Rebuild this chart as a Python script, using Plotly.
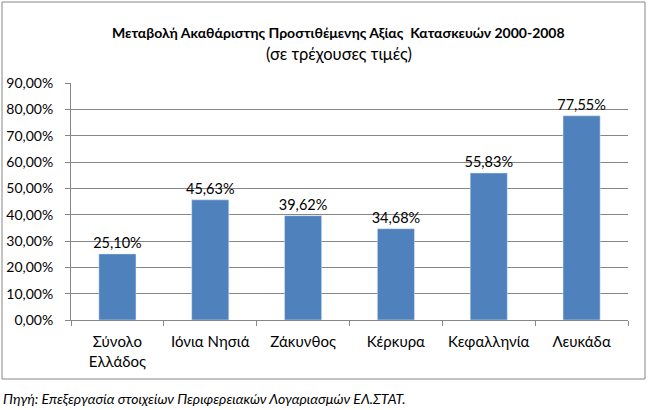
import plotly.graph_objects as go

categories = ["Σύνολο<br>Ελλάδος", "Ιόνια Νησιά", "Ζάκυνθος", "Κέρκυρα", "Κεφαλληνία", "Λευκάδα"]
values = [0.2510, 0.4563, 0.3962, 0.3468, 0.5583, 0.7755]
yticks = [0, 0.1, 0.2, 0.3, 0.4, 0.5, 0.6, 0.7, 0.8, 0.9]

W, H = 648, 410
L, R, T, B = 71, 628, 83, 320
pw, ph = R - L, B - T

def px(x):
    return (x - L) / pw

def py(y):
    return (B - y) / ph

FONT = "Lato"

fig = go.Figure(go.Bar(
    x=categories, y=values, marker_color="#4F81BD", width=0.4,
    texttemplate="%{y:.2%}", textposition="outside", cliponaxis=False,
    constraintext="none",
    textfont=dict(family=FONT, size=14.5, color="#000"),
))

fig.update_layout(
    width=W, height=H, separators=",.",
    margin=dict(l=L, r=W - R, t=T, b=H - B, autoexpand=False),
    paper_bgcolor="white", plot_bgcolor="white",
    showlegend=False, bargap=0.6,
    font=dict(family=FONT, size=14, color="#000"),
    xaxis=dict(showline=True, linecolor="#868686", linewidth=1, automargin=False,
               ticks="outside", tickson="boundaries", ticklen=5, tickcolor="#868686",
               ticklabelstandoff=8,
               tickfont=dict(family=FONT, size=15, color="#000"), showgrid=False),
    yaxis=dict(range=[0, 0.9], tickvals=yticks, tickformat=".2%", automargin=False,
               showline=True, linecolor="#868686", linewidth=1,
               ticks="outside", ticklen=5, tickcolor="#868686",
               ticklabelstandoff=9,
               gridcolor="#868686", gridwidth=1, zeroline=False,
               tickfont=dict(family=FONT, size=14, color="#000")),
    shapes=[dict(type="rect", xref="paper", yref="paper",
                 x0=px(2), x1=px(645), y0=py(379), y1=py(2),
                 line=dict(color="#868686", width=1), layer="below")],
    annotations=[
        dict(text="<b>Μεταβολή Ακαθάριστης Προστιθέμενης Αξίας  Κατασκευών 2000-2008</b>",
             xref="paper", yref="paper", x=px(338), y=py(33), showarrow=False,
             font=dict(family=FONT, size=14, color="#000"), xanchor="center", yanchor="middle"),
        dict(text="(σε τρέχουσες τιμές)",
             xref="paper", yref="paper", x=px(339), y=py(54), showarrow=False,
             font=dict(family=FONT, size=16.5, color="#000"), xanchor="center", yanchor="middle"),
        dict(text="<i>Πηγή: Επεξεργασία στοιχείων Περιφερειακών Λογαριασμών ΕΛ.ΣΤΑΤ.</i>",
             xref="paper", yref="paper", x=px(1), y=py(398), showarrow=False,
             font=dict(family=FONT, size=14, color="#000"), xanchor="left", yanchor="middle"),
    ],
)

fig.write_html("out.html")
